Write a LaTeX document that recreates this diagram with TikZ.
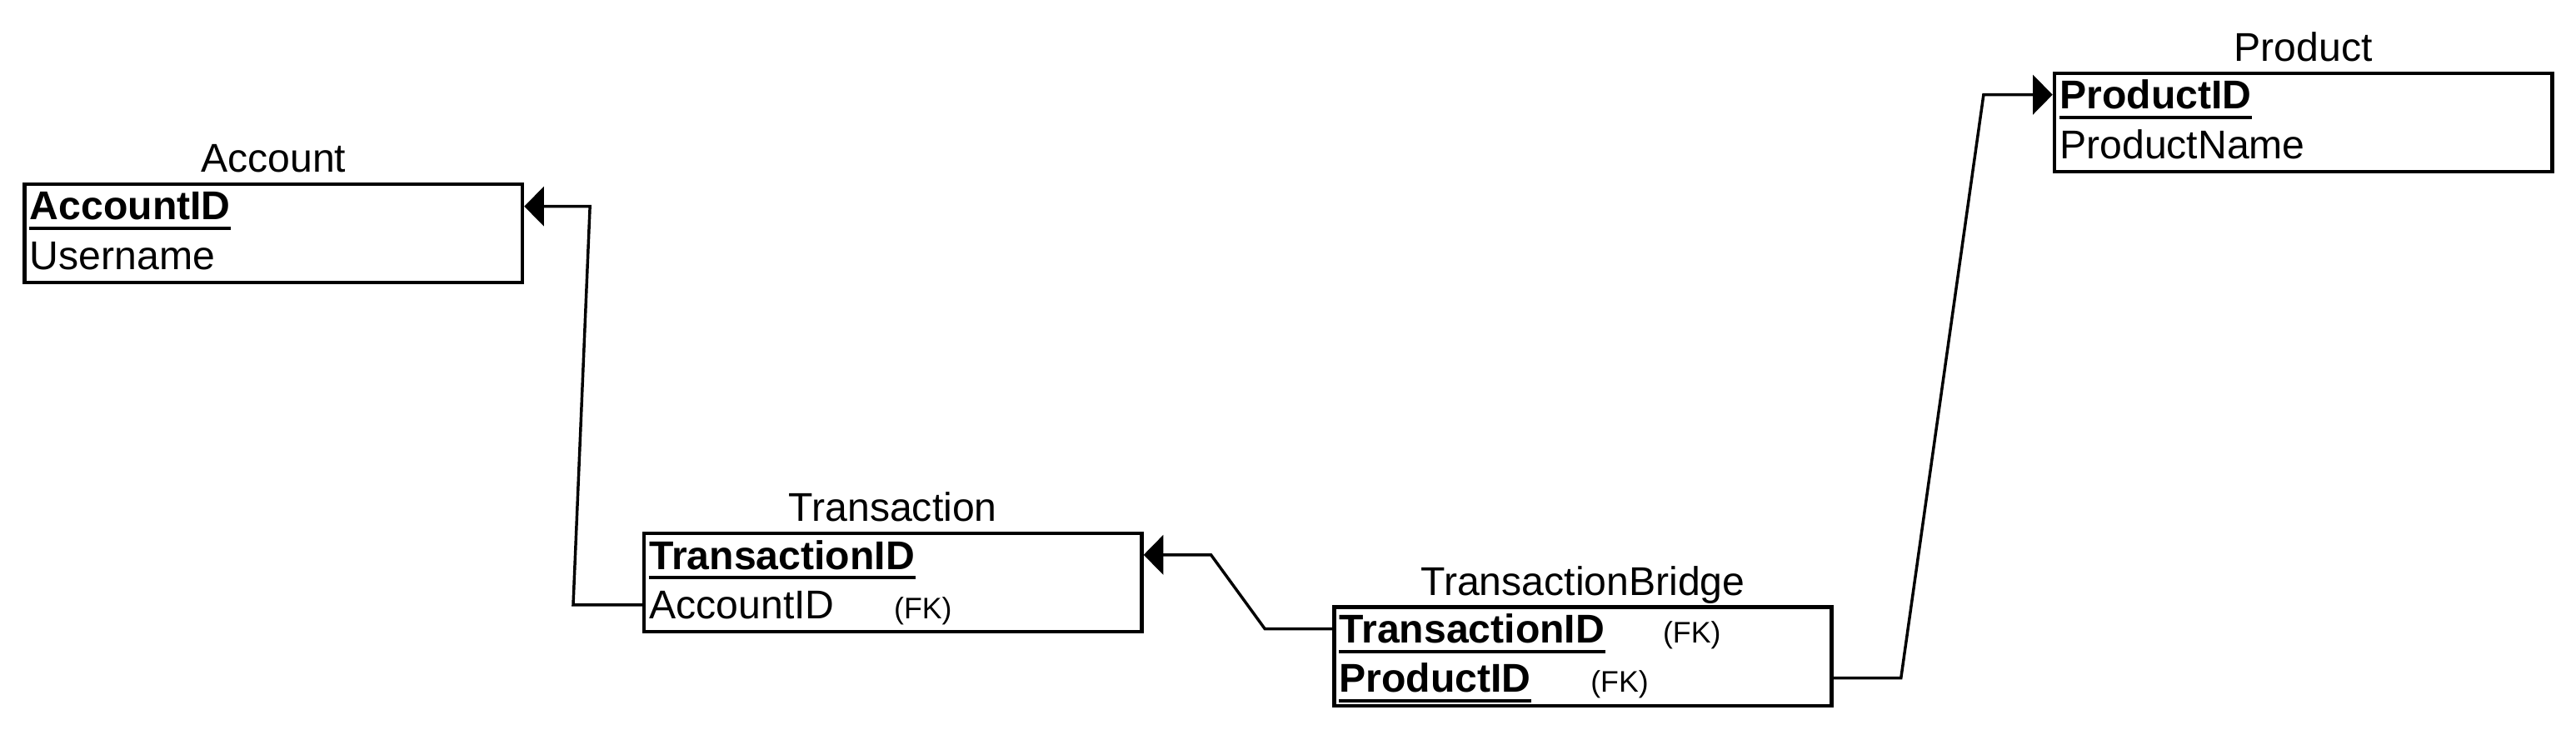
\documentclass[tikz,border=0pt]{standalone}
\usepackage{fontspec}
\setmainfont{Liberation Sans}
\usetikzlibrary{arrows.meta,calc}

\tikzset{
  tbl/.style={draw, rectangle, line width=1.3pt, inner sep=0pt, minimum width=6.06cm, minimum height=1.2cm},
  ttl/.style={anchor=base, inner sep=0pt, font=\fontsize{13.9}{16}\selectfont},
  pk/.style={anchor=base west, inner sep=0pt, font=\fontsize{13.9}{16}\selectfont\bfseries},
  fld/.style={anchor=base west, inner sep=0pt, font=\fontsize{13.9}{16}\selectfont},
  fk/.style={anchor=base west, inner sep=0pt, font=\fontsize{10.3}{12}\selectfont},
  ul/.style={line width=1.2pt},
  rel/.style={line width=1pt, -{Triangle[length=0.24cm,width=0.48cm]}},
}

\begin{document}
\begin{tikzpicture}[x=0.02cm,y=-0.02cm]
    \useasboundingbox (0,0) rectangle (1568,444);

    % Account
    \node[tbl] (acc) at (166.5,142) {};
    \node[ttl] (acc-t) at ($(acc.north)+(0,-6)$) {Account};
    \node[pk] (acc-id) at ($(acc.north west)+(4,23)$) {AccountID};
    \node[fld] (acc-name) at ($(acc.north west)+(4,53)$) {Username};

    % Transaction
    \node[tbl] (tr) at (543.5,354.5) {};
    \node[ttl] (tr-t) at ($(tr.north)+(0,-6)$) {Transaction};
    \node[pk] (tr-id) at ($(tr.north west)+(4,23)$) {TransactionID};
    \node[fld] (tr-acc) at ($(tr.north west)+(4,53)$) {AccountID};
    \node[fk] (tr-accfk) at ($(tr.north west)+(153,53)$) {(FK)};

    % TransactionBridge
    \node[tbl] (tb) at (963.5,399.5) {};
    \node[ttl] (tb-t) at ($(tb.north)+(0,-6)$) {TransactionBridge};
    \node[pk] (tb-tid) at ($(tb.north west)+(4,23)$) {TransactionID};
    \node[fk] (tb-tidfk) at ($(tb.north west)+(201,23)$) {(FK)};
    \node[pk] (tb-pid) at ($(tb.north west)+(4,53)$) {ProductID};
    \node[fk] (tb-pidfk) at ($(tb.north west)+(157,53)$) {(FK)};

    % Product
    \node[tbl] (pr) at (1402,74.5) {};
    \node[ttl] (pr-t) at ($(pr.north)+(0,-6)$) {Product};
    \node[pk] (pr-id) at ($(pr.north west)+(4,23)$) {ProductID};
    \node[fld] (pr-name) at ($(pr.north west)+(4,53)$) {ProductName};

    % primary keys underlined
    \foreach \k in {acc-id,tr-id,tb-tid,tb-pid,pr-id}
        \draw[ul] ($(\k.base west)+(0,5)$) -- ($(\k.base east)+(0,5)$);

    % relations
    \draw[rel] (tr.west |- tr-acc) -- ++(-42,0) -- ($(acc.east |- acc-id)+(40,0)$) -- (acc.east |- acc-id);
    \draw[rel] (tb.west |- tb-tid) -- ++(-41,0) -- ($(tr.east |- tr-id)+(41,0)$) -- (tr.east |- tr-id);
    \draw[rel] (tb.east |- tb-pid) -- ++(41,0) -- ($(pr.west |- pr-id)+(-42,0)$) -- (pr.west |- pr-id);
\end{tikzpicture}
\end{document}
